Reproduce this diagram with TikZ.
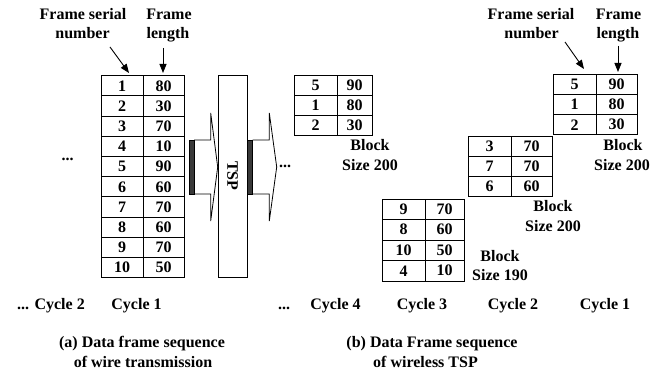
\documentclass[tikz,border=0pt]{standalone}
\usepackage{fontspec}
\setmainfont{Liberation Serif}
\usetikzlibrary{arrows.meta}
\begin{document}
\begin{tikzpicture}[x=1pt,y=-1pt]
\tikzset{
  lbl/.style={font=\fontsize{16}{19}\selectfont\bfseries, inner sep=0pt, anchor=base},
  cell/.style={draw, line width=0.8pt, inner sep=0pt, font=\fontsize{16}{19}\selectfont\bfseries},
  arr/.style={line width=0.9pt, -{Triangle[length=9pt,width=7pt]}},
  blockarrow/.style={line width=0.8pt, line join=miter},
  barstyle/.style={draw=black, fill=gray!45!black, line width=0.6pt},
}
\useasboundingbox (0,0) rectangle (662,374);

% ---------- left table ----------
\foreach \i/\a/\b [evaluate=\i as \yc using 75.7+20.2*(\i-0.5)] in
  {1/1/80,2/2/30,3/3/70,4/4/10,5/5/90,6/6/60,7/7/70,8/8/60,9/9/70,10/10/50}{
  \node[cell, minimum width=42pt, minimum height=20.2pt] (La\i) at (122,\yc) {\a};
  \node[cell, minimum width=41pt, minimum height=20.2pt] (Lb\i) at (163.5,\yc) {\b};
}

% labels left
\node[lbl] (lfs) at (83,19.3) {Frame serial};
\node[lbl] (lnum) at (82.5,38.3) {number};
\node[lbl] (lfr) at (169,19.3) {Frame};
\node[lbl] (llen) at (168,38.3) {length};
\coordinate (lsA) at (110,47);
\coordinate (lsB) at (129,73);
\coordinate (llA) at (163,48);
\coordinate (llB) at (163,73);
\draw[arr] (lsA) -- (lsB);
\draw[arr] (llA) -- (llB);

\node[lbl] (ldots) at (67.5,161) {...};

% ---------- block arrows and TSP ----------
\draw[barstyle] (189,140) rectangle (194,194);
\draw[blockarrow] (194,140) -- (210.7,140) -- (210.7,113) -- (217.7,167) -- (210.7,221) -- (210.7,194) -- (194,194);
\node[draw, line width=0.8pt, rotate=-90, minimum width=202pt, minimum height=29pt, inner sep=0pt,
      font=\fontsize{16}{19}\selectfont\bfseries] (tsp) at (232.5,176) {TSP};
\draw[barstyle] (247.7,140) rectangle (252.7,194);
\draw[blockarrow] (252.7,140) -- (269.3,140) -- (269.3,113) -- (276.7,167) -- (269.3,221) -- (269.3,194) -- (252.7,194);
\node[lbl] (rdots) at (285,168) {...};

% ---------- table A (cycle 4) ----------
\foreach \i/\a/\b [evaluate=\i as \yc using 75+20*(\i-0.5)] in {1/5/90,2/1/80,3/2/30}{
  \node[cell, minimum width=43pt, minimum height=20pt] (Aa\i) at (315.5,\yc) {\a};
  \node[cell, minimum width=35pt, minimum height=20pt] (Ab\i) at (354.5,\yc) {\b};
}
\node[lbl] (blkA) at (370,151) {Block};
\node[lbl] (szA) at (370,170.7) {Size 200};

% ---------- table C (cycle 1) ----------
\foreach \i/\a/\b [evaluate=\i as \yc using 74+20.3*(\i-0.5)] in {1/5/90,2/1/80,3/2/30}{
  \node[cell, minimum width=43pt, minimum height=20.3pt] (Ca\i) at (574.5,\yc) {\a};
  \node[cell, minimum width=41pt, minimum height=20.3pt] (Cb\i) at (616.5,\yc) {\b};
}
\node[lbl] (blkC) at (623,151) {Block};
\node[lbl] (szC) at (622,170.7) {Size 200};

\node[lbl] (rfs) at (531,19.3) {Frame serial};
\node[lbl] (rnum) at (531.5,38.3) {number};
\node[lbl] (rfr) at (618.5,19.3) {Frame};
\node[lbl] (rlen) at (618,38.3) {length};
\coordinate (rsA) at (565,42);
\coordinate (rsB) at (584,69);
\coordinate (rlA) at (618,46);
\coordinate (rlB) at (618,72);
\draw[arr] (rsA) -- (rsB);
\draw[arr] (rlA) -- (rlB);

% ---------- table B (cycle 2) ----------
\foreach \i/\a/\b [evaluate=\i as \yc using 136+20.3*(\i-0.5)] in {1/3/70,2/7/70,3/6/60}{
  \node[cell, minimum width=43pt, minimum height=20.3pt] (Ba\i) at (489.5,\yc) {\a};
  \node[cell, minimum width=41pt, minimum height=20.3pt] (Bb\i) at (531.5,\yc) {\b};
}
\node[lbl] (blkB) at (553,211.7) {Block};
\node[lbl] (szB) at (553,231.7) {Size 200};

% ---------- table D (cycle 3) ----------
\foreach \i/\a/\b [evaluate=\i as \yc using 199+20.5*(\i-0.5)] in {1/9/70,2/8/60,3/10/50,4/4/10}{
  \node[cell, minimum width=43pt, minimum height=20.5pt] (Da\i) at (403.5,\yc) {\a};
  \node[cell, minimum width=39pt, minimum height=20.5pt] (Db\i) at (444.5,\yc) {\b};
}
\node[lbl] (blkD) at (500,261.7) {Block};
\node[lbl] (szD) at (500,280.7) {Size 190};

% ---------- cycle labels ----------
\node[lbl] (c2l) at (51,310) {... Cycle 2};
\node[lbl] (c1l) at (136.5,310) {Cycle 1};
\node[lbl] (cdots) at (284,310) {...};
\node[lbl] (c4r) at (335.5,310) {Cycle 4};
\node[lbl] (c3r) at (422,310) {Cycle 3};
\node[lbl] (c2r) at (513,310) {Cycle 2};
\node[lbl] (c1r) at (605,310) {Cycle 1};

% ---------- captions ----------
\node[lbl] (capa1) at (142,348) {(a) Data frame sequence};
\node[lbl] (capa2) at (143,367) {of wire transmission};
\node[lbl] (capb1) at (432,348) {(b) Data Frame sequence};
\node[lbl] (capb2) at (425.5,367) {of wireless TSP};
\end{tikzpicture}
\end{document}
